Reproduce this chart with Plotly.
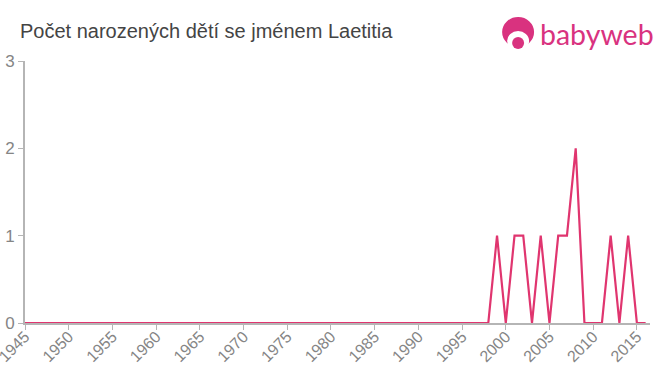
import plotly.graph_objects as go

years = list(range(1945, 2017))
counts = [0] * 54 + [1, 0, 1, 1, 0, 1, 0, 1, 1, 2, 0, 0, 0, 1, 0, 1, 0, 0]
x_ticks = list(range(1945, 2016, 5))
y_ticks = [0, 1, 2, 3]
title = "Počet narozených dětí se jménem Laetitia"
brand = "babyweb"

W, H = 660, 375
L, R, T, B = 24.5, 10, 61, 51.5
PINK = "#e0356f"
LOGO = "#d9327f"
GRAY = "#b5b5b5"
TXT = "#858585"
FONT = "Liberation Sans"


def px(v):
    return (v - L) / (W - L - R)


def py(v):
    return 1 - (v - T) / (H - T - B)


fig = go.Figure(
    go.Scatter(
        x=years, y=counts, mode="lines",
        line=dict(color=PINK, width=2.2),
        cliponaxis=False, hoverinfo="skip",
    )
)
fig.update_layout(
    width=W, height=H, autosize=False,
    margin=dict(l=L, r=R, t=T, b=B, pad=0),
    paper_bgcolor="white", plot_bgcolor="white", showlegend=False,
    font=dict(family=FONT),
    annotations=[
        dict(text=title, x=px(18.5), y=py(31), xref="paper", yref="paper",
             xanchor="left", yanchor="middle", showarrow=False,
             font=dict(family=FONT, size=20, color="#444444"), borderpad=0),
        dict(text=brand, x=px(539), y=py(34), xref="paper", yref="paper",
             xanchor="left", yanchor="middle", showarrow=False,
             font=dict(family="Lato", size=28.5, color=LOGO), borderpad=0),
    ],
    shapes=[
        dict(type="circle", xref="paper", yref="paper", x0=px(502), x1=px(534), y0=py(17), y1=py(47),
             fillcolor=LOGO, line_width=0),
        dict(type="circle", xref="paper", yref="paper", x0=px(507), x1=px(529), y0=py(31), y1=py(51),
             fillcolor="white", line_width=0),
        dict(type="circle", xref="paper", yref="paper", x0=px(512), x1=px(524), y0=py(37), y1=py(49),
             fillcolor=LOGO, line_width=0),
    ],
)
fig.update_xaxes(
    range=[1945, 2016.5], tickvals=x_ticks, ticktext=[str(v) for v in x_ticks],
    tickangle=-45, ticks="outside", ticklen=5, tickcolor=GRAY, tickwidth=1,
    showgrid=False, zeroline=False, showline=True, linecolor=GRAY, linewidth=2,
    tickfont=dict(family=FONT, size=16, color=TXT), automargin=False,
    ticklabeloverflow="allow", ticklabelstandoff=-9,
)
fig.update_yaxes(
    range=[0, 3], tickvals=y_ticks, ticks="outside", ticklen=5, tickcolor=GRAY, tickwidth=1,
    showgrid=False, zeroline=False, showline=True, linecolor=GRAY, linewidth=2,
    tickfont=dict(family=FONT, size=17, color=TXT), automargin=False,
    ticklabeloverflow="allow",
)
fig.write_html(
    "out.html",
    config=dict(displayModeBar=False),
    post_script="document.body.style.margin='0';document.body.style.overflow='hidden';",
)
